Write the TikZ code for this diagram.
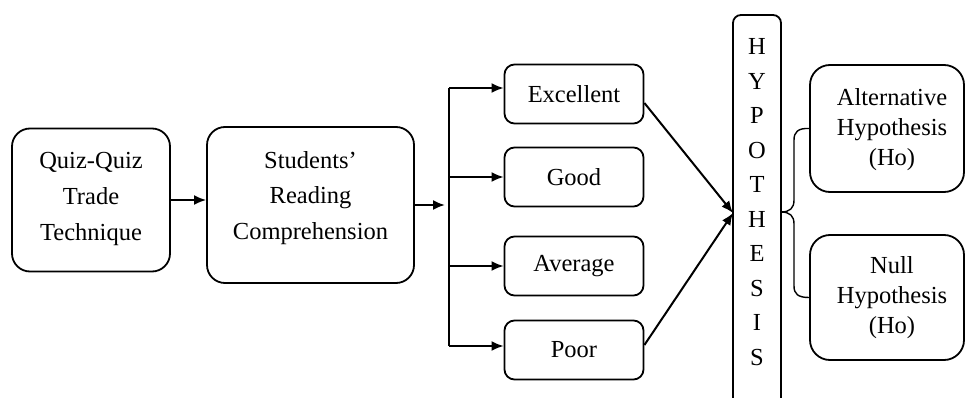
\documentclass[tikz,border=0pt]{standalone}
\usepackage{fontspec}
\setmainfont{Liberation Serif}
\usetikzlibrary{arrows.meta}
\begin{document}
\begin{tikzpicture}[x=1pt,y=-1pt,
  box/.style={draw, line width=1.8pt, inner sep=0pt},
  bigbox/.style={box, rounded corners=18pt},
  smallbox/.style={box, rounded corners=10pt, minimum width=139pt, minimum height=59pt},
  txt/.style={align=center, inner sep=0pt, font=\fontsize{24.5pt}{36pt}\selectfont},
  txtb/.style={align=center, inner sep=0pt, font=\fontsize{24.5pt}{30pt}\selectfont},
  conn/.style={line width=2pt, -{Latex[length=12pt,width=10pt]}},
  line/.style={line width=2pt},
  brace/.style={line width=1.4pt}]
\clip (0,0) rectangle (965,398);
% left boxes
\node[bigbox, minimum width=158pt, minimum height=143pt] (q) at (91,200) {};
\node[txt] (qt) at (91,199) {Quiz-Quiz\\Trade\\Technique};
\node[bigbox, minimum width=207pt, minimum height=156pt] (s) at (310.5,205) {};
\node[txt, font=\fontsize{24.5pt}{35.5pt}\selectfont] (st) at (310.5,198) {Students’\\Reading\\Comprehension};
% categories
\node[smallbox] (ex) at (574,94) {\fontsize{24.5pt}{30pt}\selectfont Excellent};
\node[smallbox] (gd) at (574,177) {\fontsize{24.5pt}{30pt}\selectfont Good};
\node[smallbox] (av) at (574,266) {\fontsize{24.5pt}{30pt}\selectfont Average};
\node[smallbox] (pr) at (574,350) {\fontsize{24.5pt}{30pt}\selectfont Poor};
% hypothesis column
\node[box, rounded corners=8pt, minimum width=48pt, minimum height=415pt] (hyp) at (757,222.5) {};
\node[align=center, inner sep=0pt, font=\fontsize{24.5pt}{34.5pt}\selectfont] (hypt) at (757,202) {H\\Y\\P\\O\\T\\H\\E\\S\\I\\S};
% hypothesis boxes
\node[box, rounded corners=20pt, minimum width=154pt, minimum height=127pt] (alt) at (887,128.5) {};
\node[txtb] (altt) at (892,130) {Alternative\\Hypothesis\\(Ho)};
\node[box, rounded corners=20pt, minimum width=154pt, minimum height=125pt] (nul) at (887,297.5) {};
\node[txtb] (nult) at (892,298) {Null\\Hypothesis\\(Ho)};
% coordinates
\coordinate (sptop) at (449,88);
\coordinate (spbot) at (449,346);
\coordinate (spin) at (445,205);
\coordinate (hin) at (733,213);
\coordinate (hout) at (781,212);
% connectors
\draw[conn] (q.east) -- (q.east -| s.west);
\draw[conn] (s.east) -- (spin);
\draw[line] (sptop) -- (spbot);
\draw[conn] (sptop) -- (sptop -| ex.west);
\draw[conn] (gd.west -| sptop) -- (gd.west);
\draw[conn] (av.west -| sptop) -- (av.west);
\draw[conn] (spbot) -- (spbot -| pr.west);
\draw[conn] ([yshift=-9pt]ex.east) -- (hin);
\draw[conn] ([yshift=5pt]pr.east) -- (hin);
% brace
\draw[brace] (hout) .. controls (790,212) and (794,208) .. (794,200) -- (794,140)
  .. controls (794,132) and (798,128) .. (alt.west);
\draw[brace] (hout) .. controls (790,212) and (794,216) .. (794,224) -- (794,286)
  .. controls (794,294) and (798,297.5) .. (nul.west);
\end{tikzpicture}
\end{document}
